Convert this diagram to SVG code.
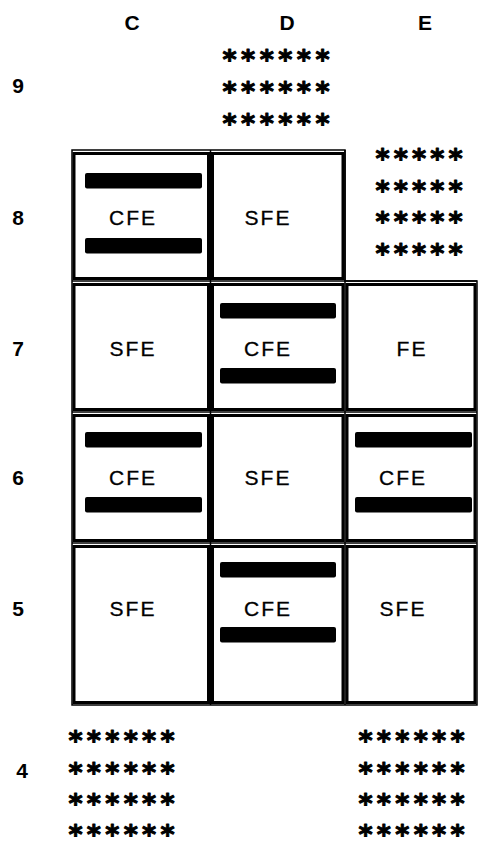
<svg xmlns="http://www.w3.org/2000/svg" width="480" height="844" viewBox="0 0 480 844">
  <style>
    .lbl { font-family: "Liberation Sans", Arial, sans-serif; font-size: 21px; font-weight: bold; fill: #000; text-anchor: middle; }
    .txt { font-family: "Liberation Sans", Arial, sans-serif; font-size: 21px; letter-spacing: 2px; fill: #000; stroke: #000; stroke-width: 0.3; text-anchor: middle; }
    .star { font-family: "DejaVu Sans", sans-serif; font-size: 27px; font-weight: bold; fill: #000; stroke: #000; stroke-width: 1; stroke-linejoin: round; text-anchor: middle; }
    .frame { fill: none; stroke: #000; stroke-width: 1.5; }
    .cell { fill: #fff; stroke: #000; stroke-width: 3; }
    .bar { fill: #000; }
  </style>

  <!-- column headings -->
  <g id="col-labels">
    <text class="lbl" x="132" y="30">C</text>
    <text class="lbl" x="287" y="30">D</text>
    <text class="lbl" x="425" y="30">E</text>
  </g>

  <!-- row headings -->
  <g id="row-labels">
    <text class="lbl" x="18" y="93">9</text>
    <text class="lbl" x="18" y="225">8</text>
    <text class="lbl" x="18" y="356">7</text>
    <text class="lbl" x="18" y="485">6</text>
    <text class="lbl" x="18" y="616">5</text>
    <text class="lbl" x="22" y="778">4</text>
  </g>

  <!-- outer frame and grid rules -->
  <g id="grid">
    <path class="frame" d="M72 150 H345 V281 H477 V705 H72 Z"/>
    <path class="frame" d="M72 281 H477 M72 412 H477 M72 543 H477 M210.5 150 V705 M345 150 V705"/>
  </g>

  <!-- row 8 -->
  <g id="C8">
    <rect class="cell" x="74" y="153.5" width="134.5" height="125"/>
    <rect class="bar" x="85" y="173" width="117" height="15.5" rx="2"/>
    <rect class="bar" x="85" y="238" width="117" height="15.5" rx="2"/>
    <text class="txt" x="133" y="224.5">CFE</text>
  </g>
  <g id="D8">
    <rect class="cell" x="212.5" y="153.5" width="130.5" height="125"/>
    <text class="txt" x="268" y="224.5">SFE</text>
  </g>

  <!-- row 7 -->
  <g id="C7">
    <rect class="cell" x="74" y="284.5" width="134.5" height="125"/>
    <text class="txt" x="133" y="355.5">SFE</text>
  </g>
  <g id="D7">
    <rect class="cell" x="212.5" y="284.5" width="130.5" height="125"/>
    <rect class="bar" x="220" y="303" width="116" height="15.5" rx="2"/>
    <rect class="bar" x="220" y="368" width="116" height="15.5" rx="2"/>
    <text class="txt" x="268" y="355.5">CFE</text>
  </g>
  <g id="E7">
    <rect class="cell" x="347" y="284.5" width="128" height="125"/>
    <text class="txt" x="412" y="355.5">FE</text>
  </g>

  <!-- row 6 -->
  <g id="C6">
    <rect class="cell" x="74" y="415.5" width="134.5" height="125"/>
    <rect class="bar" x="85" y="432" width="117" height="15.5" rx="2"/>
    <rect class="bar" x="85" y="497" width="117" height="15.5" rx="2"/>
    <text class="txt" x="133" y="484.5">CFE</text>
  </g>
  <g id="D6">
    <rect class="cell" x="212.5" y="415.5" width="130.5" height="125"/>
    <text class="txt" x="268" y="484.5">SFE</text>
  </g>
  <g id="E6">
    <rect class="cell" x="347" y="415.5" width="128" height="125"/>
    <rect class="bar" x="355" y="432" width="117" height="15.5" rx="2"/>
    <rect class="bar" x="355" y="497" width="117" height="15.5" rx="2"/>
    <text class="txt" x="403" y="484.5">CFE</text>
  </g>

  <!-- row 5 -->
  <g id="C5">
    <rect class="cell" x="74" y="546.5" width="134.5" height="156"/>
    <text class="txt" x="133" y="615.5">SFE</text>
  </g>
  <g id="D5">
    <rect class="cell" x="212.5" y="546.5" width="130.5" height="156"/>
    <rect class="bar" x="220" y="562" width="116" height="15.5" rx="2"/>
    <rect class="bar" x="220" y="627" width="116" height="15.5" rx="2"/>
    <text class="txt" x="268" y="615.5">CFE</text>
  </g>
  <g id="E5">
    <rect class="cell" x="347" y="546.5" width="128" height="156"/>
    <text class="txt" x="403" y="615.5">SFE</text>
  </g>

  <!-- starred blocks -->
  <g id="D9-stars">
    <text class="star" x="229.5 248.1 266.7 285.3 303.9 322.5" y="69">******</text>
    <text class="star" x="229.5 248.1 266.7 285.3 303.9 322.5" y="101">******</text>
    <text class="star" x="229.5 248.1 266.7 285.3 303.9 322.5" y="133">******</text>
  </g>
  <g id="E8-stars">
    <text class="star" x="382.5 400.75 419 437.25 455.5" y="168">*****</text>
    <text class="star" x="382.5 400.75 419 437.25 455.5" y="200">*****</text>
    <text class="star" x="382.5 400.75 419 437.25 455.5" y="231">*****</text>
    <text class="star" x="382.5 400.75 419 437.25 455.5" y="263">*****</text>
  </g>
  <g id="C4-stars">
    <text class="star" x="75.5 93.9 112.3 130.7 149.1 167.5" y="750">******</text>
    <text class="star" x="75.5 93.9 112.3 130.7 149.1 167.5" y="782">******</text>
    <text class="star" x="75.5 93.9 112.3 130.7 149.1 167.5" y="813">******</text>
    <text class="star" x="75.5 93.9 112.3 130.7 149.1 167.5" y="844">******</text>
  </g>
  <g id="E4-stars">
    <text class="star" x="365.5 383.9 402.3 420.7 439.1 457.5" y="750">******</text>
    <text class="star" x="365.5 383.9 402.3 420.7 439.1 457.5" y="782">******</text>
    <text class="star" x="365.5 383.9 402.3 420.7 439.1 457.5" y="813">******</text>
    <text class="star" x="365.5 383.9 402.3 420.7 439.1 457.5" y="844">******</text>
  </g>
</svg>
